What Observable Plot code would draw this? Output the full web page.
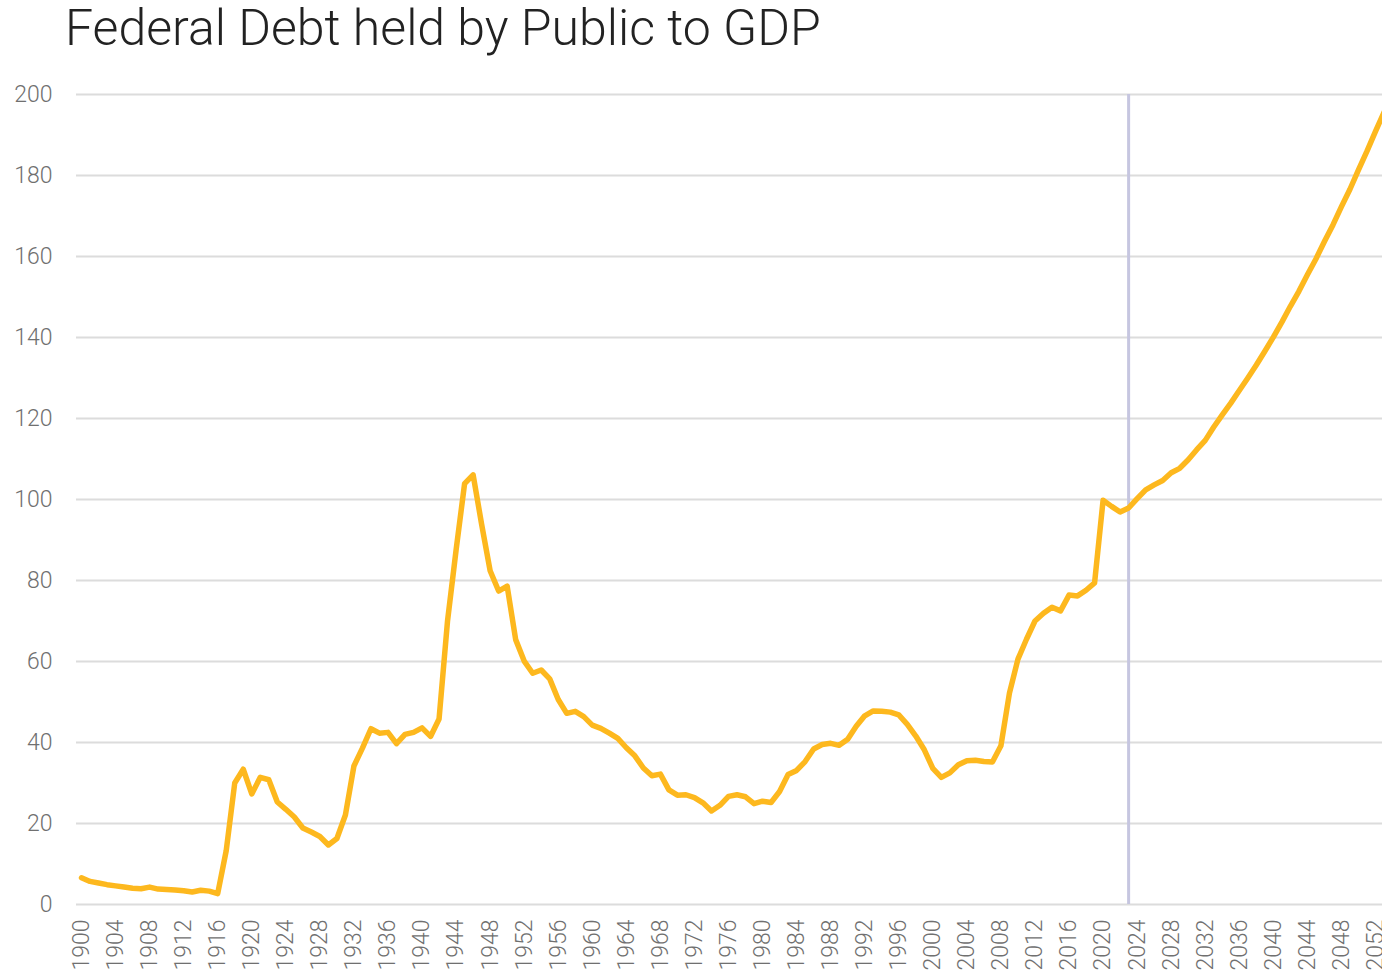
<!DOCTYPE html>
<html>
<head>
<meta charset="utf-8">
<script src="https://cdn.jsdelivr.net/npm/d3@7"></script>
<script src="https://cdn.jsdelivr.net/npm/@observablehq/plot@0.6"></script>
<style>
  html, body { margin: 0; padding: 0; background: #fff; overflow: hidden; }
  #title {
    font-family: Roboto, "Liberation Sans", Arial, sans-serif;
    font-weight: 300;
    font-size: 50px; line-height: 50px; height: 60px;
    box-sizing: border-box; padding-top: 3px; padding-left: 65px;
    color: #222; white-space: nowrap;
  }
</style>
</head>
<body>
<div id="title">Federal Debt held by Public to GDP</div>
<div id="chart"></div>
<script>
const titleText = "Federal Debt held by Public to GDP";
const firstYear = 1900;
const debtToGDP = [
  6.6, 5.7, 5.3, 4.9, 4.6, 4.3, 4.0, 3.9, 4.3, 3.8,      // 1900-1909
  3.7, 3.6, 3.4, 3.1, 3.5, 3.3, 2.7, 13.3, 30.0, 33.4,   // 1910-1919
  27.3, 31.4, 30.8, 25.3, 23.5, 21.6, 18.9, 17.9, 16.8, 14.7, // 1920-1929
  16.3, 22.1, 34.2, 38.6, 43.4, 42.3, 42.5, 39.7, 42.0, 42.5, // 1930-1939
  43.6, 41.5, 45.8, 70.1, 87.5, 103.9, 106.1, 93.9, 82.4, 77.4, // 1940-1949
  78.6, 65.4, 60.1, 57.1, 57.9, 55.7, 50.6, 47.2, 47.7, 46.4, // 1950-1959
  44.3, 43.5, 42.3, 41.0, 38.7, 36.7, 33.7, 31.8, 32.2, 28.3, // 1960-1969
  27.0, 27.1, 26.4, 25.1, 23.1, 24.5, 26.7, 27.1, 26.6, 24.9, // 1970-1979
  25.5, 25.2, 27.9, 32.1, 33.1, 35.3, 38.4, 39.5, 39.8, 39.3, // 1980-1989
  40.8, 44.0, 46.6, 47.8, 47.7, 47.5, 46.8, 44.5, 41.6, 38.2, // 1990-1999
  33.6, 31.4, 32.5, 34.5, 35.5, 35.6, 35.3, 35.2, 39.2, 52.2, // 2000-2009
  60.6, 65.5, 70.0, 71.9, 73.4, 72.5, 76.4, 76.2, 77.6, 79.4, // 2010-2019
  99.8, 98.3, 96.9, 97.9, 100.2, 102.4, 103.6, 104.7, 106.6, 107.7, // 2020-2029
  109.8, 112.3, 114.6, 117.9, 120.9, 123.8, 126.9, 130.0, 133.2, 136.6, // 2030-2039
  140.1, 143.8, 147.7, 151.4, 155.5, 159.4, 163.7, 167.8, 172.3, 176.6, // 2040-2049
  181.4, 186.0, 190.9, 195.6                               // 2050-2053
];
const markerYear = 2023;
const xTicks = d3.range(1900, 2053, 4);
const yTicks = d3.range(0, 201, 20);
const xDomain = [1900, 2052];
const yDomain = [0, 200];

const data = debtToGDP.map((v, i) => ({year: firstYear + i, value: v}));

const chart = Plot.plot({
  width: 1382,
  height: 914,
  marginTop: 34,
  marginBottom: 70,
  marginLeft: 81,
  marginRight: 7,
  style: {
    fontFamily: "Roboto, 'Liberation Sans', Arial, sans-serif",
    fontWeight: 300,
    fontSize: "23px",
    color: "#707070",
    background: "#fff",
    overflow: "visible"
  },
  x: {domain: xDomain},
  y: {domain: yDomain},
  marks: [
    Plot.ruleY(yTicks, {stroke: "#dcdcdc", strokeWidth: 2, insetLeft: -5, insetRight: -7}),
    Plot.axisY({ticks: yTicks, tickSize: 0, tickPadding: 29, label: null, fill: "#707070"}),
    Plot.axisX({ticks: xTicks, tickFormat: d => String(d), tickRotate: -90, tickSize: 0, tickPadding: 15, label: null, fill: "#707070"}),
    Plot.ruleX([markerYear], {stroke: "#c6c6e0", strokeWidth: 3}),
    Plot.line(data, {x: "year", y: "value", stroke: "#fdb81e", strokeWidth: 5.5, strokeLinejoin: "round", strokeLinecap: "round"})
  ]
});
document.getElementById("chart").appendChild(chart);
</script>
</body>
</html>
